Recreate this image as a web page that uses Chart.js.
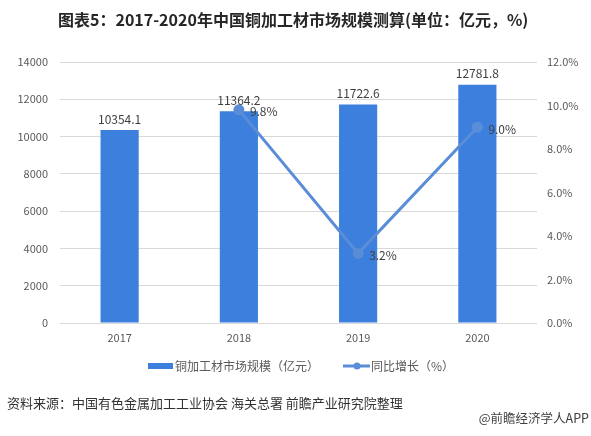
<!DOCTYPE html>
<html>
<head>
<meta charset="utf-8">
<script src="https://cdn.jsdelivr.net/npm/chart.js@4.4.0/dist/chart.umd.min.js"></script>
<style>
  html, body { margin: 0; padding: 0; background: #fff; }
</style>
</head>
<body>
<canvas id="myChart" width="591" height="436"></canvas>
<script>
'use strict';
// data
let years = ['2017', '2018', '2019', '2020'];
let marketSize = [10354.1, 11364.2, 11722.6, 12781.8];
let growth = [null, 9.8, 3.2, 9.0];
let leftTicks = [0, 2000, 4000, 6000, 8000, 10000, 12000, 14000];
let rightTicks = [0, 2, 4, 6, 8, 10, 12];

const FONT = '"Noto Sans CJK SC", "Noto Sans", sans-serif';
const barColor = '#3d7fdd';
const lineColor = '#5a8dd8';

// title, legend, source line and value labels
const extras = {
    id: 'extras',
    afterDraw(chart) {
        const ctx = chart.ctx;
        const sets = chart.data.datasets;
        ctx.save();
        ctx.fillStyle = '#262626';
        ctx.font = 'bold 16px ' + FONT;
        ctx.textAlign = 'left';
        ctx.textBaseline = 'middle';
        ctx.fillText('图表5：2017-2020年中国铜加工材市场规模测算(单位：亿元，%)', 58, 20, 473);

        // legend
        ctx.font = '12px ' + FONT;
        ctx.fillStyle = barColor;
        ctx.fillRect(148, 363, 25, 6);
        ctx.fillStyle = '#595959';
        ctx.fillText(sets[0].label, 175, 366);
        ctx.strokeStyle = lineColor;
        ctx.lineWidth = 3;
        ctx.beginPath(); ctx.moveTo(343, 366); ctx.lineTo(370, 366); ctx.stroke();
        ctx.fillStyle = lineColor;
        ctx.beginPath(); ctx.arc(357, 366, 3.5, 0, Math.PI * 2); ctx.fill();
        ctx.fillStyle = '#595959';
        ctx.fillText(sets[1].label, 371, 366);

        // source
        ctx.font = '13px ' + FONT;
        ctx.fillStyle = '#333';
        ctx.fillText('资料来源：中国有色金属加工工业协会 海关总署 前瞻产业研究院整理', 7, 403, 408);
        ctx.textAlign = 'right';
        ctx.font = '12.5px ' + FONT;
        ctx.fillStyle = '#404040';
        ctx.fillText('@前瞻经济学人APP', 589, 418);

        // bar labels
        ctx.font = '12px ' + FONT;
        ctx.fillStyle = '#404040';
        ctx.textAlign = 'center';
        ctx.textBaseline = 'bottom';
        chart.getDatasetMeta(0).data.forEach((bar, i) => {
            ctx.fillText(marketSize[i].toFixed(1), bar.x, bar.y - 5);
        });
        // line labels
        ctx.textAlign = 'left';
        ctx.textBaseline = 'middle';
        chart.getDatasetMeta(1).data.forEach((pt, i) => {
            if (growth[i] === null) return;
            ctx.fillText(growth[i].toFixed(1) + '%', pt.x + 11, pt.y + 2);
        });
        ctx.restore();
    }
};

let ctx = document.getElementById('myChart').getContext('2d');
let myChart = new Chart(ctx, {
    data: {
        labels: years,
        datasets: [{
            type: 'bar',
            label: '铜加工材市场规模（亿元）',
            data: marketSize,
            backgroundColor: barColor,
            yAxisID: 'y',
            barPercentage: 0.64,
            categoryPercentage: 0.5,
            order: 2
        }, {
            type: 'line',
            label: '同比增长（%）',
            data: growth,
            borderColor: lineColor,
            backgroundColor: lineColor,
            borderWidth: 3,
            pointRadius: 4,
            pointHoverRadius: 4,
            yAxisID: 'y1',
            order: 1
        }]
    },
    plugins: [extras],
    options: {
        responsive: false,
        animation: false,
        layout: { padding: { top: 62, bottom: 83, left: 0, right: 0 } },
        plugins: {
            tooltip: { enabled: false },
            legend: { display: false }
        },
        scales: {
            x: {
                afterFit(scale) { scale.height = 30; },
                grid: { display: false, drawTicks: false },
                border: { display: false },
                ticks: { color: '#595959', font: { family: FONT, size: 11 }, padding: 8 }
            },
            y: {
                position: 'left',
                min: 0,
                max: 14000,
                afterBuildTicks(scale) { scale.ticks = leftTicks.map(v => ({ value: v })); },
                afterFit(scale) { scale.width = 60; },
                grid: { color: '#d9d9d9', drawTicks: false },
                border: { display: false },
                ticks: {
                    color: '#595959',
                    font: { family: FONT, size: 11 },
                    padding: 12,
                    callback: v => String(v)
                }
            },
            y1: {
                position: 'right',
                min: 0,
                max: 12,
                afterBuildTicks(scale) { scale.ticks = rightTicks.map(v => ({ value: v })); },
                afterFit(scale) { scale.width = 54; },
                grid: { display: false, drawTicks: false },
                border: { display: false },
                ticks: {
                    color: '#595959',
                    font: { family: FONT, size: 11 },
                    padding: 10,
                    callback: v => v.toFixed(1) + '%'
                }
            }
        }
    }
});
</script>
</body>
</html>
